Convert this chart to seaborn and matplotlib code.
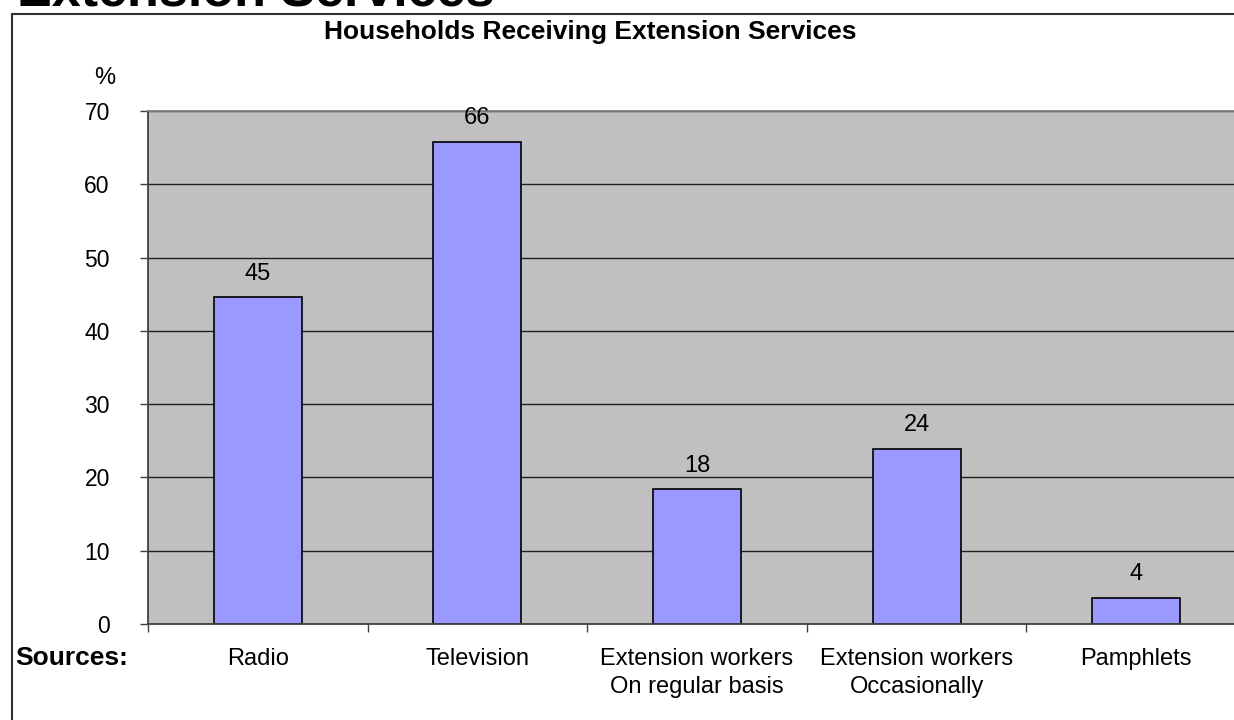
import matplotlib
matplotlib.use("Agg")
import matplotlib.pyplot as plt
import matplotlib.patches as patches
import seaborn as sns
import pandas as pd

# data
sources = ["Radio", "Television", "Extension workers\nOn regular basis",
           "Extension workers\nOccasionally", "Pamphlets"]
percent = [44.6, 65.8, 18.4, 23.9, 3.6]
labels = ["45", "66", "18", "24", "4"]

df = pd.DataFrame({"Source": sources, "Percent": percent})

sns.set_style("white")
plt.rcParams['font.family'] = ['Liberation Sans', 'DejaVu Sans']
plt.rcParams['text.color'] = 'black'
plt.rcParams['xtick.color'] = 'black'
plt.rcParams['ytick.color'] = 'black'

fig = plt.figure(figsize=(12.34, 7.2), dpi=100)
# plot area runs past the right edge like the original
ax = fig.add_axes([148/1234, 1 - 624/720, 1098/1234, 513/720])
ax.set_facecolor("#C0C0C0")

sns.barplot(data=df, x="Source", y="Percent", color="#9999FF",
            edgecolor="black", linewidth=1.2, width=0.4, saturation=1, ax=ax)

ax.bar_label(ax.containers[0], labels=labels, padding=9, fontsize=17,
             color="black")

ax.set_xlim(-0.5, 4.5)
ax.set_ylim(0, 70)
ax.set_yticks(range(0, 71, 10))
ax.yaxis.grid(True, color="#202020", linewidth=1)
ax.set_axisbelow(True)
ax.tick_params(axis="y", labelsize=16.5, length=6, width=1, color="#404040",
               labelcolor="black", left=True, pad=21.5)
for t in ax.get_yticklabels():
    t.set_horizontalalignment("right")

ax.set_xticks(range(len(sources)))
ax.set_xticklabels(sources, fontsize=17, linespacing=1.4)
ax.set_xticks([i - 0.5 for i in range(len(sources) + 1)], minor=True)
ax.tick_params(axis="x", which="major", length=0, pad=17, labelcolor="black")
ax.tick_params(axis="x", which="minor", length=6, width=1, color="#404040",
               bottom=True)
ax.set_xlabel("")
ax.set_ylabel("")

for s in ["left", "bottom"]:
    ax.spines[s].set_color("#404040")
    ax.spines[s].set_linewidth(1.3)
ax.spines["top"].set_color("#808080")
ax.spines["top"].set_linewidth(1.3)
ax.spines["right"].set_visible(False)

# outer frame
frame = patches.Rectangle((12/1234, -0.2), 1.2, 1 - 14/720 + 0.2,
                          transform=fig.transFigure, fill=False,
                          edgecolor="#303030", linewidth=1.5, clip_on=False)
fig.add_artist(frame)

fig.text(17/1234, 1 - 5/720, "Extension Services", fontsize=37.5,
         fontweight="bold", ha="left", va="baseline")
fig.text(590/1234, 1 - 32/720, "Households Receiving Extension Services",
         fontsize=19, fontweight="bold", ha="center", va="center")
fig.text(105/1234, 1 - 78/720, "%", fontsize=17, ha="center", va="center")
fig.text(15/1234, 1 - 658/720, "Sources:", fontsize=19, fontweight="bold",
         ha="left", va="center")

fig.savefig("out.png", dpi=100)
